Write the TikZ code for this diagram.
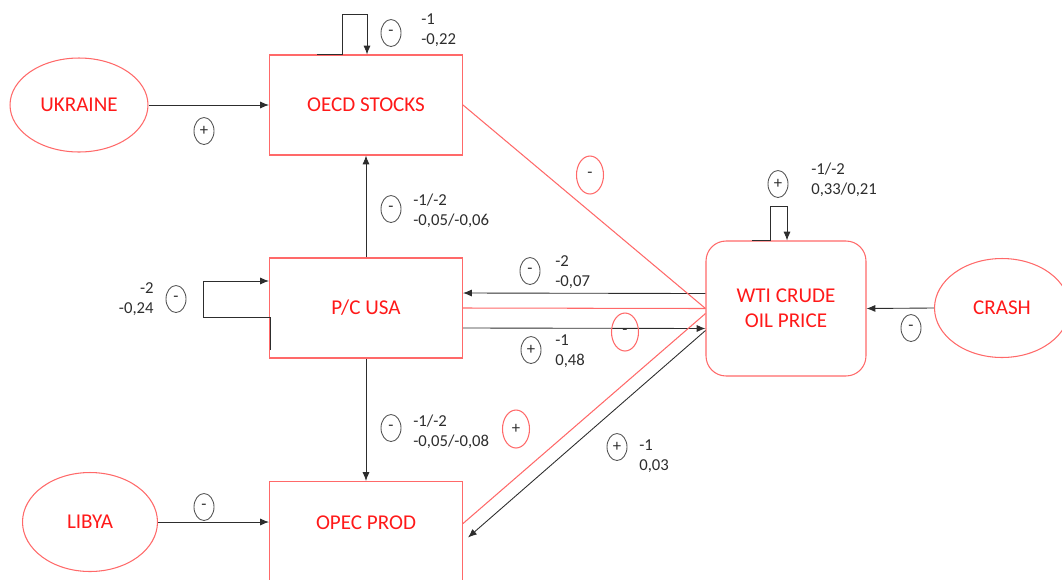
\documentclass[tikz,border=0pt]{standalone}
\usepackage{fontspec}
\setmainfont{Carlito}
\usetikzlibrary{calc,arrows.meta,shapes.geometric}
\definecolor{boxred}{RGB}{255,105,105}
\definecolor{txtred}{RGB}{255,25,25}
\definecolor{arrgray}{RGB}{45,45,45}
\tikzset{
	block/.style={draw=boxred, text=txtred, line width=0.6pt, minimum width=3.86cm, minimum height=2cm, align=center, font=\fontsize{12}{14}\selectfont},
	cause/.style={ellipse, draw=boxred, text=txtred, line width=0.6pt, inner sep=0pt, font=\fontsize{12}{14}\selectfont},
	link/.style={draw=arrgray, line width=0.5pt, -{Latex[length=5pt,width=4pt]}},
	redlink/.style={draw=boxred, line width=0.6pt},
	sign/.style={ellipse, draw=arrgray!80, line width=0.5pt, minimum width=0.4cm, minimum height=0.54cm, inner sep=0pt, text=arrgray, font=\fontsize{9.5}{9.5}\selectfont},
	redsign/.style={sign, draw=boxred, line width=0.6pt, minimum width=0.54cm, minimum height=0.76cm},
	coef/.style={align=left, anchor=west, inner sep=0pt, text=arrgray, font=\fontsize{9.5}{11.6}\selectfont}
}
\begin{document}
\begin{tikzpicture}[x=0.02cm, y=-0.02cm]
		%%%%% START %%%%%
		\useasboundingbox (0, 0) rectangle (1062, 579);
		
		\node[block] (oecd) at (366, 105) {OECD STOCKS};
		\node[block] (pc) at (366, 308) {P/C USA};
		\node[block, anchor=north, inner ysep=0pt, text height=0.95cm, text depth=1.05cm] (opec) at (366, 481) {OPEC PROD};
		\node[block, rounded corners=0.4cm, minimum width=3.2cm, minimum height=2.7cm] (wti) at (786, 308.5) {WTI CRUDE\\OIL PRICE};
		
		\node[cause, minimum width=2.76cm, minimum height=1.88cm] (ukraine) at (79, 105) {UKRAINE};
		\node[cause, minimum width=2.7cm, minimum height=1.98cm] (libya) at (90, 522) {LIBYA};
		\node[cause, minimum width=2.7cm, minimum height=1.98cm] (crash) at (1002, 308) {CRASH};
		
		% causal links
		\draw[link] (ukraine.east) -- (oecd.west);
		\draw[link] (libya.east) -- (libya.east -| opec.west);
		\draw[link] (crash.west) -- (wti.east);
		\draw[link] (pc.north) -- (oecd.south);
		\draw[link] (pc.south) -- (opec.north);
		\draw[link] ([yshift=0.3cm]wti.west) -- ([yshift=0.3cm]pc.east);
		\draw[link] ([yshift=-0.4cm]pc.east) -- ([yshift=-0.4cm]wti.west);
		\draw[link] ([yshift=-0.44cm]wti.west) -- ([shift={(0.1cm,-0.12cm)}]opec.east);
		
		\draw[redlink] (oecd.east) -- (wti.west);
		\draw[redlink] (pc.east) -- (wti.west);
		\draw[redlink] ([yshift=0.16cm]opec.east) -- ([yshift=-0.1cm]wti.west);
		
		% self loops
		\draw[link] ([xshift=-0.98cm]oecd.north) -- ++(25, 0) -- ++(0, -40) -- ++(25, 0) -- ++(0, 40);
		\draw[link] ([xshift=-0.68cm]wti.north) -- ++(18, 0) -- ++(0, -34) -- ++(17, 0) -- ++(0, 34);
		\draw[link] ([shift={(0.02cm,-0.84cm)}]pc.west) -- ++(0, -33) -- ++(-67, 0) -- ++(0, -36) -- ++(66, 0);
		
		% signs
		\node[sign] (s-oecd) at (391, 33) {-};
		\node[sign] (s-pcoecd) at (391, 209) {-};
		\node[sign] (s-wtipc) at (530, 271) {-};
		\node[sign] (s-pcwti) at (531, 350) {+};
		\node[sign] (s-pcopec) at (391, 428) {-};
		\node[sign] (s-wtiopec) at (617, 447) {+};
		\node[sign] (s-wti) at (778, 184) {+};
		\node[sign] (s-pc) at (176, 299) {-};
		\node[sign] (s-ukraine) at (204, 131) {+};
		\node[sign] (s-libya) at (204, 507) {-};
		\node[sign] (s-crash) at (911, 328) {-};
		
		\node[redsign] (r-oecd) at (590, 175) {-};
		\node[redsign] (r-pc) at (625, 332) {-};
		\node[redsign] (r-opec) at (516, 429) {+};
		
		% coefficients
		\node[coef] (c-oecd) at (421, 30) {-1\\-0,22};
		\node[coef] (c-pcoecd) at (413, 211) {-1/-2\\-0,05/-0,06};
		\node[coef] (c-wtipc) at (555, 272) {-2\\-0,07};
		\node[coef] (c-pcwti) at (555, 351) {-1\\0,48};
		\node[coef] (c-pcopec) at (413, 432) {-1/-2\\-0,05/-0,08};
		\node[coef] (c-wtiopec) at (639, 456) {-1\\0,03};
		\node[coef] (c-wti) at (811, 180) {-1/-2\\0,33/0,21};
		\node[coef, anchor=east, align=right] (c-pc) at (154, 299) {-2\\-0,24};
		
		%%%%% END %%%%%
	\end{tikzpicture}
\end{document}
